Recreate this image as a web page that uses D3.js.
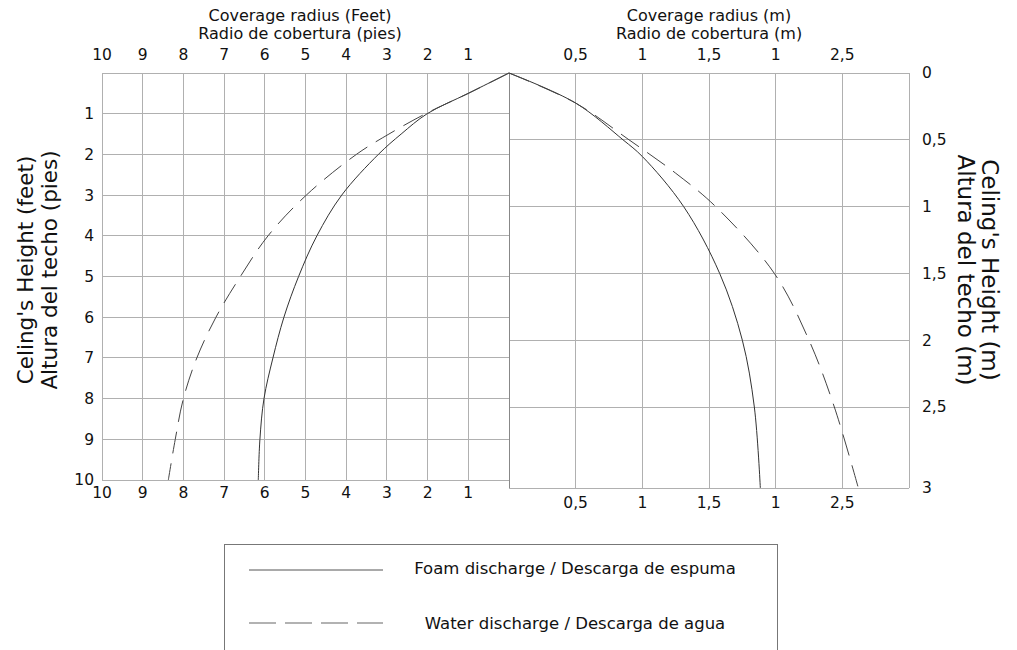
<!DOCTYPE html>
<html>
<head>
<meta charset="utf-8">
<style>
  body { margin: 0; background: #fff; }
  text { font-family: "DejaVu Sans", Verdana, sans-serif; fill: #111; }
</style>
</head>
<body>
<svg width="1017" height="650"></svg>
<script src="https://d3js.org/d3.v7.min.js"></script>
<script>

// ---- data ----
// left panel, feet: ceiling height -> coverage radius
var feetHeights = [0, 0.5, 1, 1.5, 2, 3, 4, 5, 6, 7, 8, 9, 10];
var foamFeet    = [0, 1.0, 2.01, 2.65, 3.21, 4.11, 4.72, 5.17, 5.53, 5.80, 6.02, 6.12, 6.16];
var waterFeet   = [0, 1.0, 2.05, 2.95, 3.75, 4.98, 5.92, 6.6, 7.2, 7.67, 8.0, 8.2, 8.37];

// right panel, metres
var foamMetersH  = [0, 0.225, 0.5, 0.625, 1, 1.5, 2, 2.5, 3];
var foamMetersR  = [0, 0.5, 0.855, 1.0, 1.31, 1.58, 1.75, 1.84, 1.885];
var waterMetersH = [0, 0.225, 0.5, 0.75, 1, 1.5, 2, 2.5, 3];
var waterMetersR = [0, 0.5, 0.9, 1.25, 1.55, 1.99, 2.25, 2.44, 2.62];

// tick labels (the original prints "1" where 2 should be, kept as is)
var feetTicks = [10, 9, 8, 7, 6, 5, 4, 3, 2, 1];
var feetHeightTicks = [1, 2, 3, 4, 5, 6, 7, 8, 9, 10];
var meterXTicks = [0.5, 1, 1.5, 2, 2.5];
var meterXLabels = ["0,5", "1", "1,5", "1", "2,5"];
var meterYTicks = [0, 0.5, 1, 1.5, 2, 2.5, 3];
var meterYLabels = ["0", "0,5", "1", "1,5", "2", "2,5", "3"];

var legendLabels = ["Foam discharge / Descarga de espuma", "Water discharge / Descarga de agua"];

// ---- scales ----
var svg = d3.select("svg");

var xL = d3.scaleLinear().domain([10, 0]).range([102, 509]);
var yL = d3.scaleLinear().domain([0, 10]).range([73, 480]);
var xR = d3.scaleLinear().domain([0, 3]).range([509, 909]);
// last row of the metre panel is drawn taller in the original
var yR = d3.scaleLinear().domain([0, 2.5, 3]).range([73, 407, 488]);

var gridColor = "#b0b0b0";

// ---- grids ----
var grid = svg.append("g").attr("stroke", gridColor).attr("stroke-width", 1).attr("shape-rendering", "crispEdges");

grid.selectAll(".vl").data(d3.range(0, 11)).enter().append("line")
    .attr("x1", d => xL(d)).attr("x2", d => xL(d))
    .attr("y1", yL(0)).attr("y2", yL(10));
grid.selectAll(".hl").data(d3.range(0, 11)).enter().append("line")
    .attr("x1", xL(10)).attr("x2", xL(0))
    .attr("y1", d => yL(d)).attr("y2", d => yL(d));

grid.selectAll(".vr").data([0, 0.5, 1, 1.5, 2, 2.5, 3]).enter().append("line")
    .attr("x1", d => xR(d)).attr("x2", d => xR(d))
    .attr("y1", yR(0)).attr("y2", yR(3));
grid.selectAll(".hr").data([0, 0.5, 1, 1.5, 2, 2.5, 3]).enter().append("line")
    .attr("x1", xR(0)).attr("x2", xR(3))
    .attr("y1", d => yR(d)).attr("y2", d => yR(d));

// dividing line a little darker
svg.append("line")
    .attr("x1", xR(0)).attr("x2", xR(0)).attr("y1", yR(0)).attr("y2", yR(3))
    .attr("stroke", "#888").attr("shape-rendering", "crispEdges");

// ---- curves ----
var lineL = d3.line()
    .x(d => xL(d[0])).y(d => yL(d[1]))
    .curve(d3.curveCatmullRom.alpha(0.5));
var lineR = d3.line()
    .x(d => xR(d[0])).y(d => yR(d[1]))
    .curve(d3.curveCatmullRom.alpha(0.5));

var dash = "22,10";

svg.append("path")
    .attr("d", lineL(d3.zip(foamFeet, feetHeights)))
    .attr("fill", "none").attr("stroke", "#333").attr("stroke-width", 1);
svg.append("path")
    .attr("d", lineL(d3.zip(waterFeet, feetHeights)))
    .attr("fill", "none").attr("stroke", "#444").attr("stroke-width", 1)
    .attr("stroke-dasharray", dash);

svg.append("path")
    .attr("d", lineR(d3.zip(foamMetersR, foamMetersH)))
    .attr("fill", "none").attr("stroke", "#333").attr("stroke-width", 1);
svg.append("path")
    .attr("d", lineR(d3.zip(waterMetersR, waterMetersH)))
    .attr("fill", "none").attr("stroke", "#444").attr("stroke-width", 1)
    .attr("stroke-dasharray", dash);

// ---- tick labels ----
var fs = "15.5px";

svg.append("g").selectAll("text").data(feetTicks).enter().append("text")
    .attr("x", d => xL(d)).attr("y", 55).attr("dy", "0.35em")
    .attr("text-anchor", "middle").style("font-size", fs).text(d => d);
svg.append("g").selectAll("text").data(feetTicks).enter().append("text")
    .attr("x", d => xL(d)).attr("y", 493).attr("dy", "0.35em")
    .attr("text-anchor", "middle").style("font-size", fs).text(d => d);
svg.append("g").selectAll("text").data(feetHeightTicks).enter().append("text")
    .attr("x", 94).attr("y", d => yL(d)).attr("dy", "0.35em")
    .attr("text-anchor", "end").style("font-size", fs).text(d => d);

svg.append("g").selectAll("text").data(meterXTicks).enter().append("text")
    .attr("x", d => xR(d)).attr("y", 55).attr("dy", "0.35em")
    .attr("text-anchor", "middle").style("font-size", fs).text((d, i) => meterXLabels[i]);
svg.append("g").selectAll("text").data(meterXTicks).enter().append("text")
    .attr("x", d => xR(d)).attr("y", 503).attr("dy", "0.35em")
    .attr("text-anchor", "middle").style("font-size", fs).text((d, i) => meterXLabels[i]);
svg.append("g").selectAll("text").data(meterYTicks).enter().append("text")
    .attr("x", 922).attr("y", d => yR(d)).attr("dy", "0.35em")
    .attr("text-anchor", "start").style("font-size", fs).text((d, i) => meterYLabels[i]);

// ---- axis titles ----
function title(x, y, lines, size) {
  svg.append("text").attr("x", x).attr("y", y).attr("text-anchor", "middle")
    .style("font-size", size)
    .selectAll("tspan").data(lines).enter().append("tspan")
      .attr("x", x).attr("dy", (d, i) => i ? "1.13em" : 0).text(d => d);
}
title(300, 20.5, ["Coverage radius (Feet)", "Radio de cobertura (pies)"], "16px");
title(709, 20.5, ["Coverage radius (m)", "Radio de cobertura (m)"], "16px");

svg.append("text").attr("transform", "translate(32.5,270) rotate(-90)")
    .attr("text-anchor", "middle").style("font-size", "21.5px")
    .selectAll("tspan").data(["Celing's Height (feet)", "Altura del techo (pies)"]).enter().append("tspan")
      .attr("x", 0).attr("dy", (d, i) => i ? "1.16em" : 0).text(d => d);

svg.append("text").attr("transform", "translate(982,270) rotate(90)")
    .attr("text-anchor", "middle").style("font-size", "23px")
    .selectAll("tspan").data(["Celing's Height (m)", "Altura del techo (m)"]).enter().append("tspan")
      .attr("x", 0).attr("dy", (d, i) => i ? "1.05em" : 0).text(d => d);

// ---- legend ----
var lg = svg.append("g");
lg.append("rect").attr("x", 224).attr("y", 544).attr("width", 553).attr("height", 130)
    .attr("fill", "none").attr("stroke", "#777").attr("shape-rendering", "crispEdges");
lg.append("line").attr("x1", 249).attr("x2", 383).attr("y1", 570).attr("y2", 570)
    .attr("stroke", "#555");
lg.append("line").attr("x1", 249).attr("x2", 383).attr("y1", 623).attr("y2", 623)
    .attr("stroke", "#999").attr("stroke-width", 1.5).attr("stroke-dasharray", "27,9");
lg.selectAll(".lt").data(legendLabels).enter().append("text")
    .attr("x", 575).attr("y", (d, i) => i ? 623 : 568).attr("dy", "0.35em")
    .attr("text-anchor", "middle").style("font-size", "16.5px").text(d => d);

</script>
</body>
</html>
